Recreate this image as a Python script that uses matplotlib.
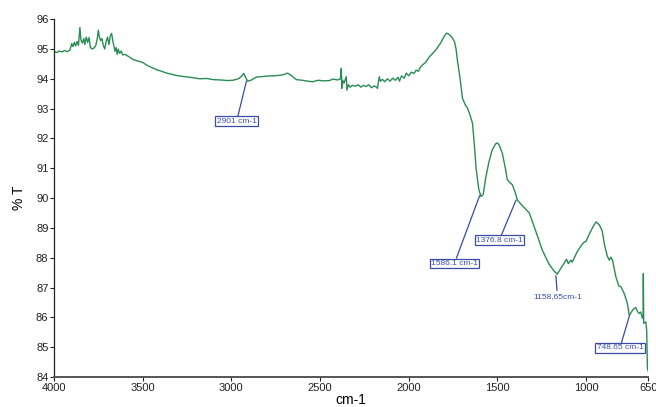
import matplotlib

matplotlib.use("Agg")
import matplotlib.pyplot as plt

# FTIR spectrum (wavenumber in cm-1, %T)
wavenumber = [
    4000, 3985, 3970, 3955, 3940, 3925, 3910, 3900, 3893, 3885, 3878, 3870, 3862, 3854,
    3848, 3840, 3832, 3826, 3818, 3810, 3802, 3795, 3785, 3775, 3765, 3756, 3750, 3744,
    3737, 3730, 3722, 3714, 3706, 3698, 3690, 3682, 3675, 3668, 3662, 3656, 3650, 3644,
    3638, 3630, 3622, 3612, 3600, 3580, 3555, 3530, 3500, 3478, 3450, 3420, 3403, 3364,
    3330, 3300, 3260, 3220, 3178, 3140, 3100, 3060, 3020, 2992, 2960, 2940, 2930, 2920,
    2908, 2890, 2870, 2857, 2830, 2801, 2760, 2720, 2700, 2683, 2660, 2640, 2632, 2600,
    2570, 2542, 2510, 2480, 2446, 2429, 2400, 2385, 2380, 2377, 2372, 2365, 2352, 2348,
    2340, 2330, 2317, 2300, 2285, 2270, 2255, 2240, 2225, 2210, 2195, 2182, 2176, 2166,
    2160, 2148, 2135, 2120, 2105, 2090, 2075, 2060, 2052, 2040, 2025, 2014, 2000, 1985,
    1970, 1958, 1945, 1935, 1922, 1905, 1883, 1865, 1843, 1820, 1800, 1787, 1775, 1760,
    1742, 1733, 1725, 1710, 1697, 1683, 1669, 1655, 1640, 1630, 1620, 1605, 1592, 1580,
    1565, 1548, 1530, 1510, 1500, 1490, 1472, 1455, 1444, 1430, 1416, 1400, 1387, 1360,
    1320, 1290, 1247, 1210, 1180, 1162, 1145, 1125, 1110, 1100, 1085, 1078, 1050, 1022,
    1010, 1000, 985, 960, 943, 925, 909, 895, 880, 869, 860, 850, 832, 815, 804, 785,
    767, 757, 750, 740, 729, 720, 710, 701, 692, 682, 678, 677, 675, 663, 658, 654, 650,
]
transmittance = [
    94.92, 94.88, 94.93, 94.90, 94.95, 94.91, 94.96, 95.18, 95.08, 95.22, 95.10, 95.25, 95.12, 95.72,
    95.30, 95.20, 95.35, 95.15, 95.40, 95.22, 95.38, 95.05, 95.00, 95.03, 95.10, 95.35, 95.63, 95.40,
    95.28, 95.35, 95.12, 95.00, 95.25, 95.40, 95.15, 95.45, 95.52, 95.25, 95.10, 94.92, 95.05, 94.82,
    95.00, 94.85, 94.93, 94.80, 94.82, 94.75, 94.65, 94.60, 94.55, 94.46, 94.38, 94.30, 94.27, 94.19,
    94.14, 94.10, 94.07, 94.04, 94.00, 94.01, 93.97, 93.96, 93.94, 93.95, 94.00, 94.10, 94.18, 94.05,
    93.92, 93.95, 94.02, 94.06, 94.07, 94.09, 94.10, 94.12, 94.15, 94.19, 94.10, 94.00, 93.97, 93.95,
    93.92, 93.90, 93.95, 93.93, 93.94, 93.99, 93.96, 94.00, 94.35, 93.68, 93.95, 93.85, 94.07, 93.62,
    93.80, 93.72, 93.78, 93.75, 93.80, 93.72, 93.78, 93.74, 93.80, 93.70, 93.76, 93.72, 93.68, 94.07,
    93.92, 93.98, 93.90, 94.00, 93.92, 94.02, 93.95, 94.05, 93.92, 94.10, 94.02, 94.19, 94.10, 94.22,
    94.18, 94.29, 94.25, 94.38, 94.46, 94.55, 94.74, 94.85, 95.00, 95.20, 95.42, 95.53, 95.50, 95.42,
    95.25, 95.00, 94.60, 94.00, 93.35, 93.15, 93.02, 92.80, 92.50, 91.80, 91.00, 90.30, 90.05, 90.12,
    90.70, 91.20, 91.60, 91.82, 91.85, 91.78, 91.50, 91.00, 90.62, 90.52, 90.45, 90.20, 89.93, 89.75,
    89.50, 89.00, 88.26, 87.80, 87.55, 87.45, 87.62, 87.80, 87.95, 87.80, 87.92, 87.85, 88.20, 88.45,
    88.52, 88.55, 88.75, 89.05, 89.20, 89.10, 88.90, 88.40, 88.05, 87.92, 88.02, 87.90, 87.36, 87.05,
    87.03, 86.80, 86.47, 86.08, 86.12, 86.22, 86.30, 86.33, 86.20, 86.13, 86.18, 85.97, 86.05, 87.47,
    85.80, 85.85, 85.55, 84.30, 84.20,
]

# peak labels: text, point on curve, label position (data units)
peak_labels = ["2901 cm-1", "1586.1 cm-1", "1376.8 cm-1", "1158,65cm-1", "748.65 cm-1"]
peak_points = [(2915, 93.92), (1600, 90.08), (1395, 89.93), (1170, 87.40), (754, 86.08)]
label_points = [(2970, 92.58), (1742, 87.81), (1489, 88.59), (1161, 86.69), (809, 84.98)]
label_boxed = [True, True, True, False, True]

x_ticks = [4000, 3500, 3000, 2500, 2000, 1500, 1000, 650]
y_ticks = list(range(84, 97))

plt.rcParams["font.family"] = ["Liberation Sans Narrow", "Liberation Sans", "DejaVu Sans"]

fig = plt.figure(figsize=(6.56, 4.07), dpi=100)
ax = fig.add_axes([0.0823, 0.0737, 0.9057, 0.8793])

ax.plot(wavenumber, transmittance, color="#2a8c55", linewidth=1.0)

for text, (px, py), (tx, ty), boxed in zip(peak_labels, peak_points, label_points, label_boxed):
    ax.annotate(
        text,
        xy=(px, py),
        xytext=(tx, ty),
        fontsize=6,
        color="#3a4fb0",
        ha="center",
        va="center",
        family=["Liberation Sans", "DejaVu Sans"],
        bbox=dict(boxstyle="square,pad=0.15", fc="white", ec="#3a4aa8", lw=0.9) if boxed else None,
        arrowprops=dict(arrowstyle="-", color="#3a4aa8", lw=0.9, shrinkA=0, shrinkB=0),
    )

ax.set_xlim(4000, 650)
ax.set_ylim(84, 96)
ax.set_xticks(x_ticks)
ax.set_yticks(y_ticks)
ax.tick_params(axis="both", labelsize=8, length=3, width=0.8, pad=1, colors="#222222")

for side in ["top", "right"]:
    ax.spines[side].set_visible(False)
ax.spines["left"].set_color("#222222")
ax.spines["left"].set_linewidth(0.9)
ax.spines["bottom"].set_color("#555555")
ax.spines["bottom"].set_linewidth(1.4)

ax.set_ylabel("% T", fontsize=10, labelpad=7)
ax.set_xlabel("cm-1", fontsize=10, labelpad=0)

fig.savefig("out.png", dpi=100)
